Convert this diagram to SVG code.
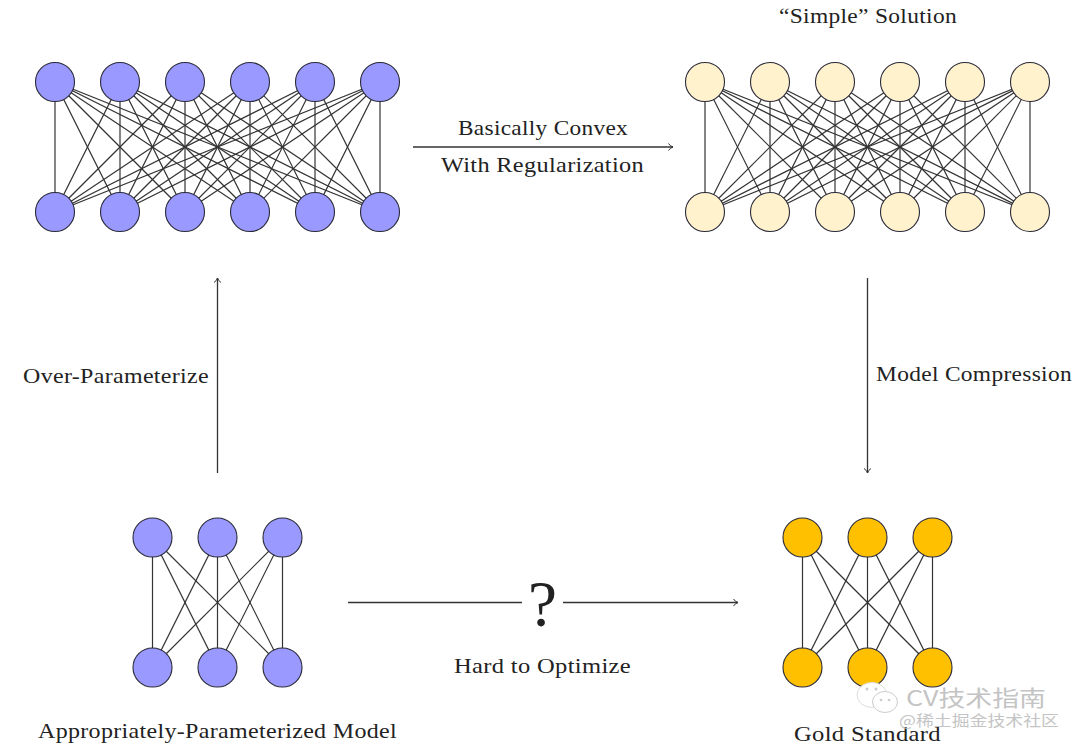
<svg xmlns="http://www.w3.org/2000/svg" xmlns:xlink="http://www.w3.org/1999/xlink" width="1080" height="750" viewBox="0 0 1080 750">
<style>
.n{stroke:#2a2a3a;stroke-width:1.1}
.p{fill:#9999ff}.c{fill:#fff2cc}.g{fill:#ffc000}
.e line{stroke:#333;stroke-width:1.2;fill:none}
.a{stroke:#333;stroke-width:1.3;fill:none}
text{font-family:"Liberation Serif","Times New Roman",serif;font-size:22px;fill:#222;letter-spacing:.3px}
.w{font-family:"Noto Sans CJK SC","Liberation Sans",sans-serif;fill:#c4c4c4;letter-spacing:0}
</style>
<defs>
<marker id="ah" markerWidth="10" markerHeight="10" refX="8" refY="4" orient="auto" markerUnits="userSpaceOnUse"><path d="M3.5 0.5Q5 3 8 4Q5 5 3.5 7.5" fill="none" stroke="#333" stroke-width="1"/></marker>
<g id="k6" class="e">
<line x1="0" y1="0" x2="0" y2="130"/><line x1="0" y1="0" x2="65" y2="130"/><line x1="0" y1="0" x2="130" y2="130"/><line x1="0" y1="0" x2="195" y2="130"/><line x1="0" y1="0" x2="260" y2="130"/><line x1="0" y1="0" x2="325" y2="130"/>
<line x1="65" y1="0" x2="0" y2="130"/><line x1="65" y1="0" x2="65" y2="130"/><line x1="65" y1="0" x2="130" y2="130"/><line x1="65" y1="0" x2="195" y2="130"/><line x1="65" y1="0" x2="260" y2="130"/><line x1="65" y1="0" x2="325" y2="130"/>
<line x1="130" y1="0" x2="0" y2="130"/><line x1="130" y1="0" x2="65" y2="130"/><line x1="130" y1="0" x2="130" y2="130"/><line x1="130" y1="0" x2="195" y2="130"/><line x1="130" y1="0" x2="260" y2="130"/><line x1="130" y1="0" x2="325" y2="130"/>
<line x1="195" y1="0" x2="0" y2="130"/><line x1="195" y1="0" x2="65" y2="130"/><line x1="195" y1="0" x2="130" y2="130"/><line x1="195" y1="0" x2="195" y2="130"/><line x1="195" y1="0" x2="260" y2="130"/><line x1="195" y1="0" x2="325" y2="130"/>
<line x1="260" y1="0" x2="0" y2="130"/><line x1="260" y1="0" x2="65" y2="130"/><line x1="260" y1="0" x2="130" y2="130"/><line x1="260" y1="0" x2="195" y2="130"/><line x1="260" y1="0" x2="260" y2="130"/><line x1="260" y1="0" x2="325" y2="130"/>
<line x1="325" y1="0" x2="0" y2="130"/><line x1="325" y1="0" x2="65" y2="130"/><line x1="325" y1="0" x2="130" y2="130"/><line x1="325" y1="0" x2="195" y2="130"/><line x1="325" y1="0" x2="260" y2="130"/><line x1="325" y1="0" x2="325" y2="130"/>
</g>
<g id="k3" class="e">
<line x1="0" y1="0" x2="0" y2="130"/><line x1="0" y1="0" x2="65" y2="130"/><line x1="0" y1="0" x2="130" y2="130"/>
<line x1="65" y1="0" x2="0" y2="130"/><line x1="65" y1="0" x2="65" y2="130"/><line x1="65" y1="0" x2="130" y2="130"/>
<line x1="130" y1="0" x2="0" y2="130"/><line x1="130" y1="0" x2="65" y2="130"/><line x1="130" y1="0" x2="130" y2="130"/>
</g>
</defs>
<rect width="1080" height="750" fill="#fff"/>
<g id="connectors">
<use href="#k6" x="55" y="82"/>
<use href="#k6" x="705" y="82"/>
<use href="#k3" x="152.500" y="537.500"/>
<use href="#k3" x="802.500" y="537.500"/>
<line class="a" x1="413" y1="147" x2="673" y2="147" marker-end="url(#ah)"/>
<line class="a" x1="867.500" y1="278" x2="867.500" y2="473" marker-end="url(#ah)"/>
<line class="a" x1="217.500" y1="473" x2="217.500" y2="278" marker-end="url(#ah)"/>
<line class="a" x1="348" y1="602.500" x2="522" y2="602.500"/>
<line class="a" x1="563" y1="602.500" x2="738" y2="602.500" marker-end="url(#ah)"/>
</g>
<g id="net-over-parameterized">
<circle class="n p" cx="55" cy="82" r="19.500"/><circle class="n p" cx="120" cy="82" r="19.500"/><circle class="n p" cx="185" cy="82" r="19.500"/><circle class="n p" cx="250" cy="82" r="19.500"/><circle class="n p" cx="315" cy="82" r="19.500"/><circle class="n p" cx="380" cy="82" r="19.500"/>
<circle class="n p" cx="55" cy="212" r="19.500"/><circle class="n p" cx="120" cy="212" r="19.500"/><circle class="n p" cx="185" cy="212" r="19.500"/><circle class="n p" cx="250" cy="212" r="19.500"/><circle class="n p" cx="315" cy="212" r="19.500"/><circle class="n p" cx="380" cy="212" r="19.500"/>
</g>
<g id="net-simple-solution">
<circle class="n c" cx="705" cy="82" r="19.500"/><circle class="n c" cx="770" cy="82" r="19.500"/><circle class="n c" cx="835" cy="82" r="19.500"/><circle class="n c" cx="900" cy="82" r="19.500"/><circle class="n c" cx="965" cy="82" r="19.500"/><circle class="n c" cx="1030" cy="82" r="19.500"/>
<circle class="n c" cx="705" cy="212" r="19.500"/><circle class="n c" cx="770" cy="212" r="19.500"/><circle class="n c" cx="835" cy="212" r="19.500"/><circle class="n c" cx="900" cy="212" r="19.500"/><circle class="n c" cx="965" cy="212" r="19.500"/><circle class="n c" cx="1030" cy="212" r="19.500"/>
</g>
<g id="net-appropriate">
<circle class="n p" cx="152.500" cy="537.500" r="19.500"/><circle class="n p" cx="217.500" cy="537.500" r="19.500"/><circle class="n p" cx="282.500" cy="537.500" r="19.500"/>
<circle class="n p" cx="152.500" cy="667.500" r="19.500"/><circle class="n p" cx="217.500" cy="667.500" r="19.500"/><circle class="n p" cx="282.500" cy="667.500" r="19.500"/>
</g>
<g id="net-gold">
<circle class="n g" cx="802.500" cy="537.500" r="19.500"/><circle class="n g" cx="867.500" cy="537.500" r="19.500"/><circle class="n g" cx="932.500" cy="537.500" r="19.500"/>
<circle class="n g" cx="802.500" cy="667.500" r="19.500"/><circle class="n g" cx="867.500" cy="667.500" r="19.500"/><circle class="n g" cx="932.500" cy="667.500" r="19.500"/>
</g>
<g id="labels">
<text x="779" y="23" textLength="178" lengthAdjust="spacingAndGlyphs">“Simple” Solution</text>
<text x="458" y="135" textLength="170" lengthAdjust="spacingAndGlyphs">Basically Convex</text>
<text x="441" y="172" textLength="203" lengthAdjust="spacingAndGlyphs">With Regularization</text>
<text x="23" y="383" textLength="186" lengthAdjust="spacingAndGlyphs">Over-Parameterize</text>
<text x="876" y="381" textLength="196" lengthAdjust="spacingAndGlyphs">Model Compression</text>
<text x="454" y="673" textLength="177" lengthAdjust="spacingAndGlyphs">Hard to Optimize</text>
<text x="38" y="738" textLength="359" lengthAdjust="spacingAndGlyphs">Appropriately-Parameterized Model</text>
<text x="794" y="741" textLength="147" lengthAdjust="spacingAndGlyphs">Gold Standard</text>
<text x="528" y="626" style="font-size:66px;letter-spacing:0" textLength="29" lengthAdjust="spacingAndGlyphs">?</text>
</g>
<g id="watermark">
<ellipse cx="872" cy="695" rx="15" ry="12.500" fill="#fff" stroke="#ddd" stroke-width="1"/>
<ellipse cx="885" cy="702" rx="12.500" ry="10.500" fill="#fff" stroke="#ccc" stroke-width="1"/>
<circle cx="867" cy="689" r="1.500" fill="#ccc"/><circle cx="876" cy="689" r="1.500" fill="#ccc"/><circle cx="881" cy="700" r="1.300" fill="#ccc"/><circle cx="889" cy="700" r="1.300" fill="#ccc"/>
<text class="w" x="906" y="706" style="font-size:22px" textLength="140" lengthAdjust="spacingAndGlyphs">CV技术指南</text>
<text class="w" x="899" y="726" style="font-size:15px" textLength="160" lengthAdjust="spacingAndGlyphs">@稀土掘金技术社区</text>
</g>
</svg>
